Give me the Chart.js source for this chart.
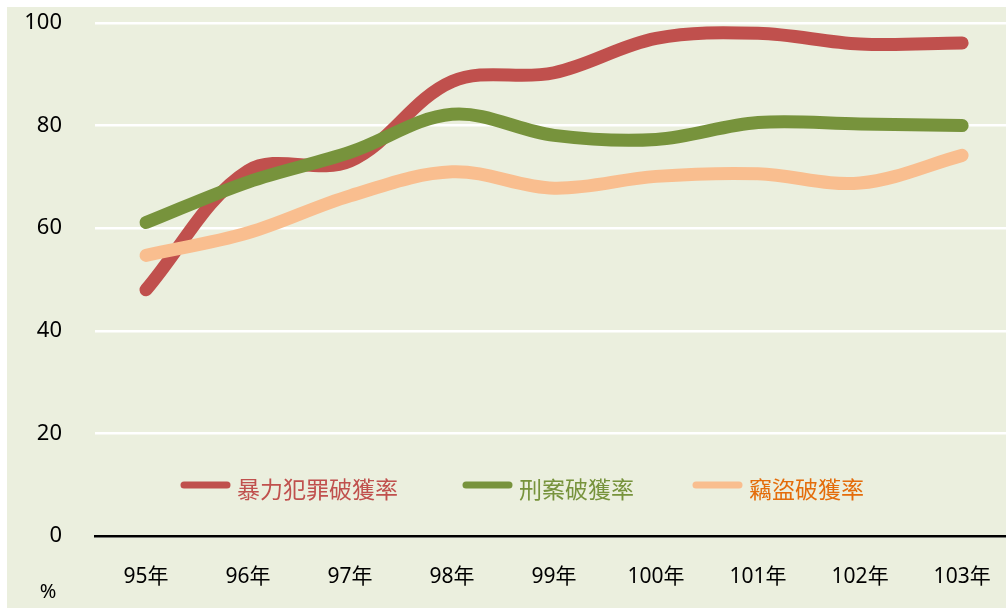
<!DOCTYPE html>
<html>
<head>
<meta charset="utf-8">
<script src="https://cdn.jsdelivr.net/npm/chart.js@4/dist/chart.umd.min.js"></script>
<style>
  html, body { margin: 0; padding: 0; background: #fff; }
  #wrap { width: 1006px; height: 608px; position: relative; }
</style>
</head>
<body>
<div id="wrap"><canvas id="myChart"></canvas></div>
<script>
const years = ['95年', '96年', '97年', '98年', '99年', '100年', '101年', '102年', '103年'];
const violent = [48.0, 71.2, 73.1, 88.6, 90.3, 97.0, 98.0, 95.9, 96.1];   // 暴力犯罪破獲率
const criminal = [61.1, 69.0, 74.8, 82.2, 78.1, 77.3, 80.6, 80.3, 80.0];  // 刑案破獲率
const theft = [54.7, 59.1, 66.3, 71.0, 67.8, 70.1, 70.6, 68.8, 74.2];     // 竊盜破獲率
const seriesNames = ['暴力犯罪破獲率', '刑案破獲率', '竊盜破獲率'];
const yTicks = [0, 20, 40, 60, 80, 100];

const lineColors = ['#c0504d', '#77933c', '#f9be8f'];
const textColors = ['#c0504d', '#77933c', '#e46c0a'];

function pts(arr) {
  return arr.map(function(v, i) { return { x: i, y: v }; });
}

// background panel (white strip on top and left edge)
const bgPlugin = {
  id: 'bg',
  beforeDraw: function(chart) {
    const ctx = chart.ctx;
    ctx.save();
    ctx.fillStyle = '#ebefde';
    ctx.fillRect(7, 7, chart.width - 7, chart.height - 7);
    ctx.restore();
  }
};

// legend inside the plot + unit label
const extras = {
  id: 'extras',
  afterDraw: function(chart) {
    const ctx = chart.ctx;
    ctx.save();
    const lx = [181, 463, 693];
    const y = 485;
    ctx.lineCap = 'round';
    ctx.lineWidth = 7;
    ctx.font = '23px "Noto Sans CJK TC"';
    ctx.textBaseline = 'middle';
    for (let i = 0; i < 3; i++) {
      ctx.strokeStyle = lineColors[i];
      ctx.beginPath();
      ctx.moveTo(lx[i] + 3, y);
      ctx.lineTo(lx[i] + 46, y);
      ctx.stroke();
      ctx.fillStyle = textColors[i];
      ctx.fillText(seriesNames[i], lx[i] + 56, y + 4);
    }
    ctx.fillStyle = '#000';
    ctx.font = '20px "Noto Sans"';
    ctx.textAlign = 'center';
    ctx.fillText('%', 48, 592);
    ctx.restore();
  }
};

const data = {
  datasets: [0, 1, 2].map(function(i) {
    return {
      label: seriesNames[i],
      data: pts([violent, criminal, theft][i]),
      borderColor: lineColors[i],
      backgroundColor: lineColors[i],
      borderWidth: 13,
      borderCapStyle: 'round',
      borderJoinStyle: 'round',
      tension: 0.35,
      pointRadius: 0,
      fill: false
    };
  }).reverse()
};

const config = {
  type: 'line',
  data: data,
  options: {
    responsive: true,
    maintainAspectRatio: false,
    animation: false,
    layout: {
      padding: { top: 23, right: 0, left: 0, bottom: 0 }
    },
    plugins: {
      legend: false,
      tooltip: { enabled: false }
    },
    scales: {
      x: {
        type: 'linear',
        min: -0.5,
        max: 8.43,
        afterFit: function(s) { s.height = 72; s.paddingLeft = 0; s.paddingRight = 0; },
        grid: { display: false, drawTicks: false },
        border: { display: true, color: '#000', width: 2.5 },
        ticks: {
          stepSize: 1,
          includeBounds: false,
          autoSkip: false,
          maxRotation: 0,
          padding: 28,
          color: '#000',
          font: { family: '"Noto Sans", "Noto Sans CJK TC"', size: 21 },
          callback: function(v) { return Number.isInteger(v) ? years[v] : ''; }
        }
      },
      y: {
        min: 0,
        max: 100,
        afterFit: function(s) { s.width = 95; s.paddingTop = 0; s.paddingBottom = 0; },
        afterBuildTicks: function(s) { s.ticks = yTicks.map(function(v) { return { value: v }; }); },
        grid: { color: '#ffffff', lineWidth: 2.5, drawTicks: false },
        border: { display: false },
        ticks: {
          padding: 33,
          color: '#000',
          font: { family: '"Noto Sans"', size: 22 }
        }
      }
    }
  },
  plugins: [bgPlugin, extras]
};

const myChart = new Chart(document.getElementById('myChart'), config);
</script>
</body>
</html>
